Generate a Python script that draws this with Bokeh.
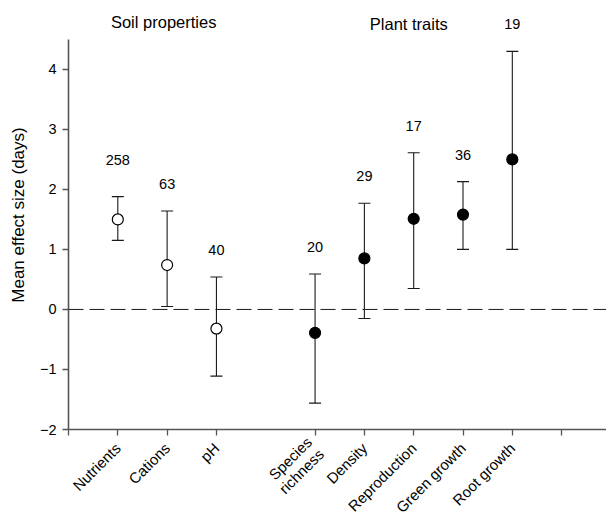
from bokeh.plotting import figure
from bokeh.models import ColumnDataSource, Whisker, TeeHead, Span, FixedTicker, Range1d
from bokeh.core.properties import value
from bokeh.embed import file_html
from bokeh.resources import INLINE
import math

# ---- data ----
categories = ["Nutrients", "Cations", "pH", "Species\nrichness", "Density",
              "Reproduction", "Green growth", "Root growth"]
positions = [1, 2, 3, 5, 6, 7, 8, 9]
groups = ["soil", "soil", "soil", "plant", "plant", "plant", "plant", "plant"]
means = [1.50, 0.74, -0.32, -0.39, 0.85, 1.51, 1.58, 2.50]
upper = [1.88, 1.64, 0.54, 0.59, 1.77, 2.61, 2.13, 4.30]
lower = [1.15, 0.05, -1.11, -1.56, -0.15, 0.35, 1.00, 1.00]
n_obs = [258, 63, 40, 20, 29, 17, 36, 19]
group_titles = ["Soil properties", "Plant traits"]
group_title_x = [1.93, 6.9]
group_title_y = [4.79, 4.75]
y_ticks = [-2, -1, 0, 1, 2, 3, 4]

FONT = "Liberation Sans"
DARK = "#1a1a1a"
AXIS = "#555555"

src = ColumnDataSource(dict(x=positions, m=means, up=upper, lo=lower,
                            n=[str(v) for v in n_obs], g=groups,
                            off=[-37 if v == 258 else -27 for v in n_obs]))
soil = ColumnDataSource(dict(x=[x for x, g in zip(positions, groups) if g == "soil"],
                             m=[m for m, g in zip(means, groups) if g == "soil"]))
plant = ColumnDataSource(dict(x=[x for x, g in zip(positions, groups) if g == "plant"],
                              m=[m for m, g in zip(means, groups) if g == "plant"]))

p = figure(frame_width=538, frame_height=429, output_backend="svg", toolbar_location=None,
           x_range=Range1d(0, 10.91), y_range=Range1d(-2, 5.147),
           min_border_left=68, min_border_right=0, min_border_top=0, min_border_bottom=0)
p.outline_line_color = None
p.grid.visible = False
p.background_fill_color = "white"
p.border_fill_color = "white"

# zero line
p.add_layout(Span(location=0, dimension="width", line_color=DARK, line_width=1,
                  line_dash="15 6"))

# error bars
w = Whisker(base="x", upper="up", lower="lo", source=src, line_color=DARK, line_width=1.1,
            upper_head=TeeHead(size=12, line_color=DARK, line_width=1.1),
            lower_head=TeeHead(size=12, line_color=DARK, line_width=1.1))
p.add_layout(w)

p.scatter("x", "m", source=soil, size=11, fill_color="white", line_color="black", line_width=1.2)
p.scatter("x", "m", source=plant, size=11, fill_color="black", line_color="black", line_width=1.2)

# n labels
p.text("x", "up", text="n", source=src, y_offset="off", text_align="center",
       text_baseline="middle", text_font=value(FONT), text_font_size="14.5px", text_color="black")

# group titles
p.text(group_title_x, group_title_y, text=group_titles, text_align="center",
       text_baseline="middle", text_font=value(FONT), text_font_size="16.5px", text_color="black")

# axes
xa = p.xaxis[0]
xa.ticker = FixedTicker(ticks=[0] + positions + [10])
xa.major_label_overrides = {**{pos: lab for pos, lab in zip(positions, categories)}, 0: "", 10: ""}
xa.major_label_orientation = math.pi / 4
xa.minor_tick_line_color = None
xa.major_tick_in = 0
xa.major_tick_out = 6
xa.axis_line_color = AXIS
xa.axis_line_width = 1.6
xa.major_tick_line_color = AXIS
xa.major_tick_line_width = 1.3
xa.major_label_text_font = FONT
xa.major_label_text_font_size = "15px"
xa.major_label_text_color = "black"
xa.major_label_text_line_height = 1.0
xa.major_label_standoff = 10

ya = p.yaxis[0]
ya.ticker = FixedTicker(ticks=y_ticks)
ya.major_label_overrides = {t: (("\u2212" + str(-t)) if t < 0 else str(t)) for t in y_ticks}
ya.bounds = (-2, 4.5)
ya.minor_tick_line_color = None
ya.major_tick_in = 0
ya.major_tick_out = 6
ya.axis_line_color = AXIS
ya.axis_line_width = 1.6
ya.major_tick_line_color = AXIS
ya.major_tick_line_width = 1.3
ya.major_label_text_font = FONT
ya.major_label_text_font_size = "14.5px"
ya.major_label_text_color = "black"
ya.major_label_standoff = 6
ya.axis_label = "Mean effect size (days)"
ya.axis_label_text_font = FONT
ya.axis_label_text_font_style = "normal"
ya.axis_label_text_font_size = "17px"
ya.axis_label_text_color = "black"
ya.axis_label_standoff = 9

open("out.html", "w").write(file_html(p, INLINE))
